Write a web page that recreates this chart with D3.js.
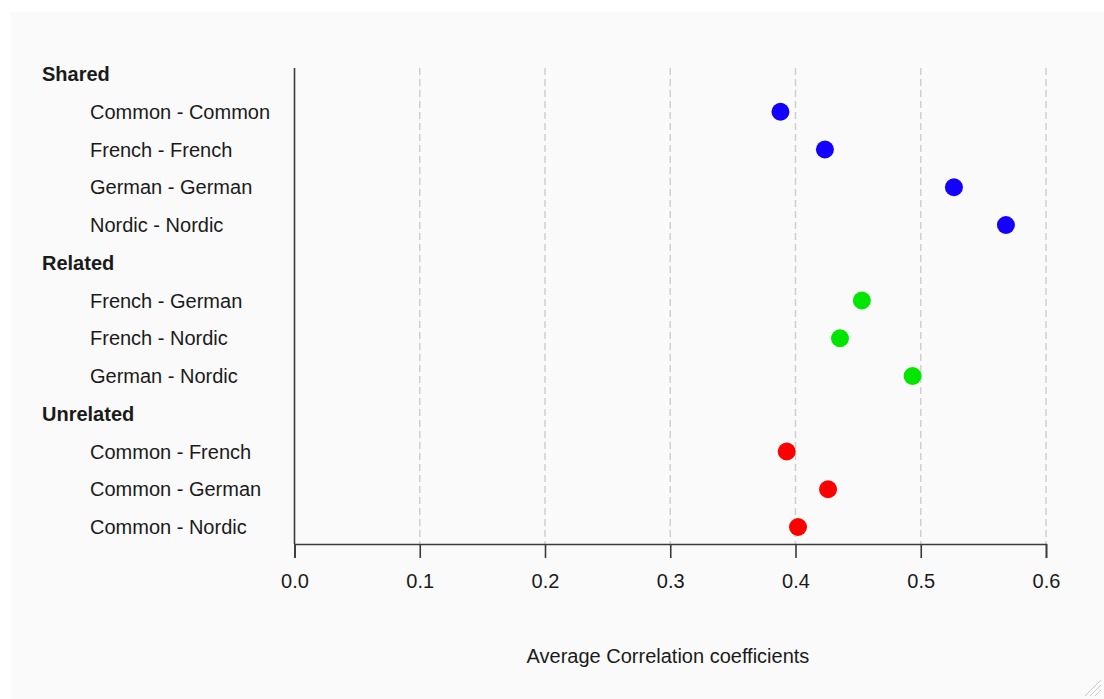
<!DOCTYPE html>
<html>
<head>
<meta charset="utf-8">
<script src="https://cdn.jsdelivr.net/npm/d3@7"></script>
<style>
  html, body { margin: 0; padding: 0; background: #ffffff; }
  svg { display: block; }
  text { font-family: "Liberation Sans", Arial, sans-serif; fill: #1a1a1a; }
</style>
</head>
<body>
<svg id="chart" width="1104" height="699"></svg>
<script>
// Groups of language pairs, in drawing order
const groups = ["Shared", "Related", "Unrelated"];
const groupPairs = [
  ["Common - Common", "French - French", "German - German", "Nordic - Nordic"],
  ["French - German", "French - Nordic", "German - Nordic"],
  ["Common - French", "Common - German", "Common - Nordic"]
];
// Average correlation coefficient for each pair (same order as groupPairs)
const groupValues = [
  [0.388, 0.4235, 0.5265, 0.568],
  [0.453, 0.4355, 0.4935],
  [0.393, 0.426, 0.402]
];
const groupColors = ["#1400ff", "#00e600", "#ff0000"];
const xTicks = [0.0, 0.1, 0.2, 0.3, 0.4, 0.5, 0.6];
const xTitle = "Average Correlation coefficients";

const svg = d3.select("#chart");
const W = 1104, H = 699;
const FS = 20;

// light panel
svg.append("rect").attr("x", 11).attr("y", 12).attr("width", W - 11).attr("height", H - 12)
  .attr("fill", "#fafafa");

// build row list: a header row per group followed by its pairs
const rows = [];
groups.forEach((g, gi) => {
  rows.push({ id: "h-" + g, label: g, header: true });
  groupPairs[gi].forEach((p, pi) => {
    rows.push({ id: g + "-" + p, label: p, header: false, value: groupValues[gi][pi], color: groupColors[gi] });
  });
});

const y = d3.scalePoint().domain(rows.map(r => r.id)).range([74, 527]);
const x = d3.scaleLinear().domain([0, 0.6]).range([294.5, 1046]);
const plotTop = 68, plotBottom = 544;

// dashed vertical gridlines
svg.append("g").selectAll("line")
  .data(xTicks.filter(t => t > 0))
  .join("line")
  .attr("x1", d => x(d)).attr("x2", d => x(d))
  .attr("y1", plotTop).attr("y2", plotBottom)
  .attr("stroke", "#cfcfcf").attr("stroke-width", 1.5)
  .attr("stroke-dasharray", "7,4");

// x axis
const xAxis = d3.axisBottom(x).tickValues(xTicks).tickFormat(d3.format(".1f"))
  .tickSize(14).tickPadding(16);
const gx = svg.append("g").attr("transform", `translate(0,${plotBottom})`).call(xAxis);
gx.select(".domain").attr("stroke", "#3a3a3a").attr("stroke-width", 1.6);
gx.selectAll(".tick line").attr("stroke", "#3a3a3a").attr("stroke-width", 1.6);
gx.selectAll(".tick text").attr("font-size", FS).attr("fill", "#1a1a1a")
  .attr("font-family", "Liberation Sans, Arial, sans-serif");

// y axis line
svg.append("line")
  .attr("x1", x(0)).attr("x2", x(0))
  .attr("y1", plotTop).attr("y2", plotBottom)
  .attr("stroke", "#3a3a3a").attr("stroke-width", 1.6);

// row labels
svg.append("g").selectAll("text")
  .data(rows)
  .join("text")
  .attr("x", d => d.header ? 42 : 90)
  .attr("y", d => y(d.id))
  .attr("dy", "0.35em")
  .attr("font-size", FS)
  .attr("font-weight", d => d.header ? "bold" : "normal")
  .text(d => d.label);

// points
svg.append("g").selectAll("circle")
  .data(rows.filter(r => !r.header))
  .join("circle")
  .attr("cx", d => x(d.value))
  .attr("cy", d => y(d.id))
  .attr("r", 9)
  .attr("fill", d => d.color);

// axis title
svg.append("text")
  .attr("x", 668).attr("y", 656)
  .attr("dy", "0.35em")
  .attr("text-anchor", "middle")
  .attr("font-size", FS)
  .text(xTitle);

// resize grip in the lower right corner
const grip = svg.append("g").attr("stroke", "#c8c8c8").attr("stroke-width", 1);
[6, 11, 16].forEach(o => {
  grip.append("line").attr("x1", W - 3 - o).attr("y1", H - 3).attr("x2", W - 3).attr("y2", H - 3 - o);
});
</script>
</body>
</html>
